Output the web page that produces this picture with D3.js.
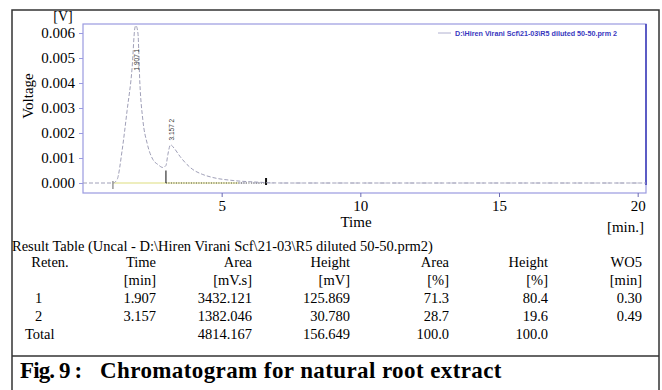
<!DOCTYPE html>
<html>
<head>
<meta charset="utf-8">
<script src="https://cdn.jsdelivr.net/npm/d3@7"></script>
<style>
  body { margin: 0; background: #fff; }
  svg { display: block; }
</style>
</head>
<body>
<div id="chart"></div>
<script>
// chromatogram trace (time in min, voltage in V)
const traceTime = [0, 1.08, 1.23, 1.41, 1.59, 1.77, 1.87, 1.907, 1.98, 2.05, 2.16, 2.31, 2.52, 2.70, 2.88, 2.99, 3.06, 3.157, 3.28, 3.50, 3.75, 3.96, 4.32, 4.68, 5.41, 6.2, 7.1, 20.3];
const traceVolt = [0, 0, 0.00014, 0.0013, 0.0029, 0.0046, 0.0062, 0.0063, 0.0060, 0.0040, 0.0025, 0.0016, 0.00094, 0.00074, 0.00062, 0.0007, 0.00114, 0.00153, 0.0014, 0.00106, 0.00074, 0.00054, 0.00034, 0.00022, 0.0001, 0.00004, 0, 0];

const peakTimes = [1.907, 3.157];
const peakLabels = ['1.907  1', '3.157  2'];
const peakLabelBottom = [0.0045, 0.0017];
const baselineStart = [1.08, 2.99];
const baselineEnd = [5.6, 6.6];

const xTicks = [5, 10, 15, 20];
const yTicks = [0, 0.001, 0.002, 0.003, 0.004, 0.005, 0.006];

const legendText = 'D:\\Hiren Virani Scf\\21-03\\R5 diluted 50-50.prm 2';
const tableTitle = 'Result Table (Uncal - D:\\Hiren Virani Scf\\21-03\\R5 diluted 50-50.prm2)';
const headers = ['Reten.', 'Time', 'Area', 'Height', 'Area', 'Height', 'WO5'];
const units = ['', '[min]', '[mV.s]', '[mV]', '[%]', '[%]', '[min]'];
const rows = [
  ['1', '1.907', '3432.121', '125.869', '71.3', '80.4', '0.30'],
  ['2', '3.157', '1382.046', '30.780', '28.7', '19.6', '0.49'],
  ['Total', '', '4814.167', '156.649', '100.0', '100.0', '']
];
const caption = ['Fig. 9 :', 'Chromatogram for natural root extract'];

const W = 662, H = 390;
const svg = d3.select('#chart').append('svg').attr('width', W).attr('height', H);
const serif = '"Liberation Serif", "Times New Roman", serif';
const sans = '"Liberation Sans", Arial, sans-serif';

// outer frame
svg.append('rect').attr('x', 12).attr('y', 10).attr('width', 647).attr('height', 382)
  .attr('fill', 'none').attr('stroke', '#333').attr('stroke-width', 1.5);
svg.append('line').attr('x1', 12).attr('x2', 659).attr('y1', 356).attr('y2', 356)
  .attr('stroke', '#333').attr('stroke-width', 1.5);

const plot = { left: 83, right: 646, top: 24, bottom: 193 };
const x = d3.scaleLinear().domain([0, 20.3]).range([plot.left, plot.right]);
const y = d3.scaleLinear().domain([-0.0004, 0.00636]).range([plot.bottom, plot.top]);

svg.append('rect').attr('x', plot.left).attr('y', plot.top)
  .attr('width', plot.right - plot.left).attr('height', plot.bottom - plot.top)
  .attr('fill', 'none').attr('stroke', '#9a9ae0').attr('stroke-width', 1.2);
svg.append('line').attr('x1', plot.right).attr('x2', plot.right)
  .attr('y1', plot.top).attr('y2', plot.bottom - 8)
  .attr('stroke', '#3a3ab8').attr('stroke-width', 1.5);

// y axis
const yAxis = svg.append('g').attr('transform', `translate(${plot.left},0)`)
  .call(d3.axisLeft(y).tickValues(yTicks).tickFormat(d3.format('.3f')).tickSize(4));
yAxis.attr('font-family', serif).attr('font-size', 15);
yAxis.select('.domain').remove();
yAxis.selectAll('line').attr('stroke', '#9a9ae0');
yAxis.selectAll('text').attr('fill', '#000').attr('dx', -1);

// x axis
const xAxis = svg.append('g').attr('transform', `translate(0,${plot.bottom})`)
  .call(d3.axisBottom(x).tickValues(xTicks).tickSize(4));
xAxis.attr('font-family', serif).attr('font-size', 15);
xAxis.select('.domain').remove();
xAxis.selectAll('line').attr('stroke', '#6a6ab0');
xAxis.selectAll('text').attr('fill', '#000');

svg.append('text').attr('x', 63).attr('y', 21).attr('text-anchor', 'middle')
  .attr('font-family', serif).attr('font-size', 14).text('[V]');
svg.append('text').attr('transform', 'translate(33,96) rotate(-90)').attr('text-anchor', 'middle')
  .attr('font-family', serif).attr('font-size', 15).text('Voltage');
svg.append('text').attr('x', 356).attr('y', 227).attr('text-anchor', 'middle')
  .attr('font-family', serif).attr('font-size', 15).text('Time');
svg.append('text').attr('x', 644).attr('y', 232).attr('text-anchor', 'end')
  .attr('font-family', serif).attr('font-size', 15).text('[min.]');

// baselines
svg.append('line').attr('x1', x(baselineStart[0])).attr('x2', x(baselineEnd[0]))
  .attr('y1', y(0)).attr('y2', y(0)).attr('stroke', '#e8e8a8').attr('stroke-width', 1.5);
svg.append('line').attr('x1', x(baselineEnd[0])).attr('x2', x(20.2))
  .attr('y1', y(0)).attr('y2', y(0)).attr('stroke', '#c8c8d8').attr('stroke-dasharray', '8,6');
svg.append('line').attr('x1', x(baselineStart[1])).attr('x2', x(baselineEnd[1]))
  .attr('y1', y(0)).attr('y2', y(0)).attr('stroke', '#444').attr('stroke-dasharray', '1,1.5');
svg.append('line').attr('x1', x(baselineStart[0])).attr('x2', x(baselineStart[0]))
  .attr('y1', y(0) - 2).attr('y2', y(0) + 6).attr('stroke', '#666');
svg.append('line').attr('x1', x(baselineStart[1])).attr('x2', x(baselineStart[1]))
  .attr('y1', y(0.0005)).attr('y2', y(0)).attr('stroke', '#333').attr('stroke-width', 1.2);
svg.append('line').attr('x1', x(baselineEnd[1])).attr('x2', x(baselineEnd[1]))
  .attr('y1', y(0.0002)).attr('y2', y(-0.00008)).attr('stroke', '#111').attr('stroke-width', 2);

// trace
const traceData = traceTime.map((t, i) => ({ t, v: traceVolt[i] }));
svg.append('path').datum(traceData)
  .attr('fill', 'none').attr('stroke', '#a0a0b8').attr('stroke-width', 1)
  .attr('stroke-dasharray', '4,2')
  .attr('d', d3.line().x(d => x(d.t)).y(d => y(d.v)).curve(d3.curveMonotoneX));

// peak labels
peakTimes.forEach((t, i) => {
  svg.append('text').attr('transform', `translate(${x(t) + 3},${y(peakLabelBottom[i])}) rotate(-90)`)
    .attr('font-family', sans).attr('font-size', 6.5)
    .attr('fill', '#333').text(peakLabels[i]);
});

// legend
svg.append('line').attr('x1', 438).attr('x2', 451).attr('y1', 33).attr('y2', 33)
  .attr('stroke', '#b0b0d0');
svg.append('text').attr('x', 455).attr('y', 36).attr('font-family', sans)
  .attr('font-size', 7.2).attr('font-weight', 'bold').attr('fill', '#3838c0').text(legendText);

// result table
svg.append('text').attr('x', 12).attr('y', 251).attr('font-family', serif).attr('font-size', 14.5).text(tableTitle);
const colRight = [null, 156, 252, 350, 449, 548, 642];
const rowY = [267, 285, 303, 321, 339];
headers.forEach((h, i) => {
  svg.append('text').attr('x', i === 0 ? 50 : colRight[i]).attr('y', rowY[0])
    .attr('text-anchor', i === 0 ? 'middle' : 'end')
    .attr('font-family', serif).attr('font-size', 14.5).text(h);
});
units.forEach((u, i) => {
  if (!u) return;
  svg.append('text').attr('x', colRight[i]).attr('y', rowY[1]).attr('text-anchor', 'end')
    .attr('font-family', serif).attr('font-size', 14.5).text(u);
});
rows.forEach((r, j) => {
  r.forEach((c, i) => {
    if (!c) return;
    svg.append('text').attr('x', i === 0 ? (c === 'Total' ? 25 : 35) : colRight[i]).attr('y', rowY[j + 2])
      .attr('text-anchor', i === 0 ? 'start' : 'end')
      .attr('font-family', serif).attr('font-size', 14.5).text(c);
  });
});

// caption
svg.append('text').attr('x', 20).attr('y', 378).attr('font-family', serif)
  .attr('font-size', 23).attr('font-weight', 'bold').attr('letter-spacing', -0.9).text(caption[0]);
svg.append('text').attr('x', 100).attr('y', 378).attr('font-family', serif)
  .attr('font-size', 23).attr('font-weight', 'bold').attr('letter-spacing', 0.4).text(caption[1]);
</script>
</body>
</html>
